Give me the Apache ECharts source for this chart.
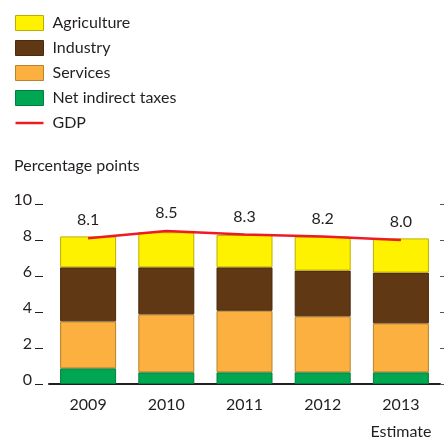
<!DOCTYPE html>
<html><head><meta charset="utf-8">
<script src="https://cdn.jsdelivr.net/npm/echarts@6/dist/echarts.min.js"></script>
<style>html,body{margin:0;padding:0;background:#fff}#c{width:445px;height:437px}</style>
</head><body><div id="c"></div>
<script>
const years = ['2009','2010','2011','2012','2013'];
const netIndirectTaxes = [0.87, 0.65, 0.65, 0.65, 0.65];
const services = [2.61, 3.22, 3.42, 3.11, 2.72];
const industry = [3.0, 2.61, 2.41, 2.54, 2.82];
const agriculture = [1.72, 1.95, 1.8, 1.89, 1.9];
const gdp = [8.1, 8.5, 8.3, 8.2, 8.0];
const yTicks = [0, 2, 4, 6, 8, 10];

const TXT = '#231f20';
const FONT = 'Lato';
const COLORS = {
  'Net indirect taxes': ['#00a651', '#00803e'],
  'Services': ['#fbb040', '#b7832c'],
  'Industry': ['#603813', '#4a2a0e'],
  'Agriculture': ['#fff200', '#bfae00']
};
const chart = echarts.init(document.getElementById('c'));
function bar(name, data) {
  return { name, type: 'bar', stack: 's', data, barWidth: 56, yAxisIndex: 0,
    itemStyle: { color: COLORS[name][0], borderColor: COLORS[name][1], borderWidth: 1 },
    emphasis: { disabled: true } };
}
function legItem(name) {
  return { name, icon: 'rect',
    itemStyle: { color: COLORS[name][0], borderColor: COLORS[name][1], borderWidth: 1, opacity: 1 } };
}
chart.setOption({
  animation: false,
  textStyle: { fontFamily: FONT, color: TXT },
  title: { text: 'Percentage points', left: 14, top: 158, padding: 0,
    textStyle: { fontFamily: FONT, fontSize: 16, fontWeight: 'normal', color: TXT } },
  legend: {
    orient: 'vertical', left: 15, top: 15, padding: 0,
    itemWidth: 28, itemHeight: 15, itemGap: 9,
    textStyle: { fontFamily: FONT, fontSize: 16, color: TXT, padding: [0, 0, 0, 4] },
    data: [
      legItem('Agriculture'), legItem('Industry'), legItem('Services'), legItem('Net indirect taxes'),
      { name: 'GDP', icon: 'path://M0,0 L28,0 L28,2.5 L0,2.5 Z',
        itemStyle: { color: '#ed1c24', borderWidth: 0 } }
    ]
  },
  grid: { left: 49, right: 5, top: 204, bottom: 53, outerBoundsMode: 'none', containLabel: false },
  xAxis: {
    type: 'category', data: years,
    axisLine: { lineStyle: { color: TXT, width: 2 } },
    axisTick: { inside: true, length: 4, lineStyle: { color: TXT } },
    axisLabel: { interval: 0, fontFamily: FONT, fontSize: 16, color: TXT, margin: 12, lineHeight: 18,
      formatter: v => v === '2013' ? v + '\n{e|Estimate}' : v,
      rich: { e: { fontFamily: FONT, fontSize: 16, color: TXT, lineHeight: 36 } } }
  },
  yAxis: [
    { type: 'value', min: yTicks[0], max: yTicks[yTicks.length - 1], interval: 2, offset: 6,
      axisLine: { show: false },
      axisTick: { show: true, length: 8, lineStyle: { color: TXT } },
      splitLine: { show: false },
      axisLabel: { fontFamily: FONT, fontSize: 16, color: TXT, margin: 11,
        verticalAlign: 'bottom', lineHeight: 8 } },
    { type: 'value', position: 'right', min: 0, max: 10, interval: 2,
      axisLine: { show: false },
      axisTick: { show: true, length: 4, lineStyle: { color: '#555' } },
      splitLine: { show: false }, axisLabel: { show: false } }
  ],
  series: [
    bar('Net indirect taxes', netIndirectTaxes),
    bar('Services', services),
    bar('Industry', industry),
    bar('Agriculture', agriculture),
    { name: 'GDP', type: 'line', data: gdp, yAxisIndex: 0,
      symbol: 'circle', symbolSize: 0.01, z: 5,
      lineStyle: { color: '#ed1c24', width: 2.5 }, itemStyle: { color: '#ed1c24' },
      label: { show: true, position: 'top', distance: 10, fontFamily: FONT, fontSize: 16, color: TXT,
        formatter: p => p.value.toFixed(1) },
      emphasis: { disabled: true } }
  ]
});
</script></body></html>
